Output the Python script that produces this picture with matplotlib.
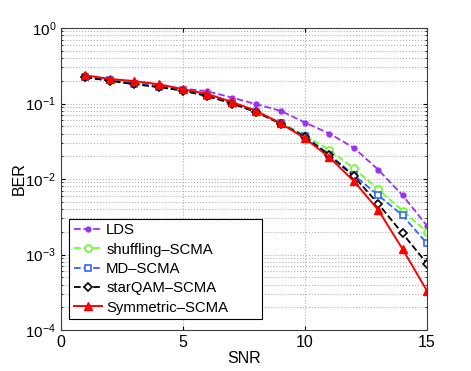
import numpy as np
import matplotlib
matplotlib.use('Agg')
import matplotlib.pyplot as plt

plt.rcParams['font.family'] = ['Liberation Sans', 'DejaVu Sans']
plt.rcParams['mathtext.fontset'] = 'custom'
plt.rcParams['mathtext.rm'] = 'Liberation Sans'
plt.rcParams['mathtext.it'] = 'Liberation Sans'

snr = np.arange(1, 16)
lds = [0.225, 0.205, 0.19, 0.172, 0.158, 0.145, 0.12, 0.098, 0.080, 0.056, 0.040, 0.026, 0.0133, 0.0061, 0.0024]
shuffling = [0.224, 0.203, 0.185, 0.168, 0.150, 0.128, 0.103, 0.078, 0.056, 0.038, 0.0242, 0.0139, 0.0073, 0.0038, 0.0020]
md = [0.224, 0.202, 0.184, 0.167, 0.149, 0.127, 0.102, 0.077, 0.055, 0.037, 0.021, 0.0113, 0.0061, 0.0033, 0.0014]
starqam = [0.222, 0.200, 0.180, 0.165, 0.148, 0.125, 0.100, 0.077, 0.054, 0.036, 0.0205, 0.0109, 0.0047, 0.0019, 0.00076]
symmetric = [0.236, 0.212, 0.198, 0.180, 0.155, 0.134, 0.105, 0.080, 0.0547, 0.0346, 0.0194, 0.0094, 0.0039, 0.00118, 0.00033]

labels = ['LDS', 'shuffling\u2013SCMA', 'MD\u2013SCMA', 'starQAM\u2013SCMA', 'Symmetric\u2013SCMA']

fig = plt.figure(figsize=(4.71, 3.71), dpi=100)
ax = fig.add_axes([0.1295, 0.1105, 0.777, 0.814])

ax.semilogy(snr, lds, '--', color='#a030f0', marker='o', ms=3.5, mfc='#a030f0', lw=1.3, label=labels[0])
ax.semilogy(snr, shuffling, '--', color='#66ff22', marker='o', ms=5, mfc='white', mew=1.2, lw=1.3, label=labels[1])
ax.semilogy(snr, md, '--', color='#3366ff', marker='s', ms=5, mfc='white', mew=1.2, lw=1.3, label=labels[2])
ax.semilogy(snr, starqam, '--', color='black', marker='D', ms=4, mfc='white', mew=1.2, lw=1.3, label=labels[3])
ax.semilogy(snr, symmetric, '-', color='red', marker='^', ms=6, mfc='red', lw=1.4, label=labels[4])

ax.set_xlim(0, 15)
ax.set_ylim(1e-4, 1)
ax.set_xticks([0, 5, 10, 15])
ax.set_xlabel('SNR', fontsize=11.5, labelpad=1)
ax.set_ylabel('BER', fontsize=11.5, labelpad=-1)
ax.tick_params(axis='x', labelsize=11.5)
ax.tick_params(axis='y', labelsize=11)
ax.tick_params(direction='in', top=True, right=True, which='both', length=3)
ax.tick_params(which='minor', length=1.5)
ax.grid(True, which='major', ls=':', color='#b0b0b0', lw=0.8)
ax.grid(True, which='minor', axis='y', ls=':', color='#b0b0b0', lw=0.8)
for s in ax.spines.values():
    s.set_color('#404040')

leg = ax.legend(loc='lower left', bbox_to_anchor=(0.022, 0.036, 0.527, 0.3), mode='expand',
                fontsize=10.7, fancybox=False, framealpha=1, edgecolor='black', borderpad=0.3,
                labelspacing=0.36, handlelength=1.9, handletextpad=0.3, borderaxespad=0)
leg.get_frame().set_linewidth(0.8)

fig.savefig('out.png', dpi=100)
